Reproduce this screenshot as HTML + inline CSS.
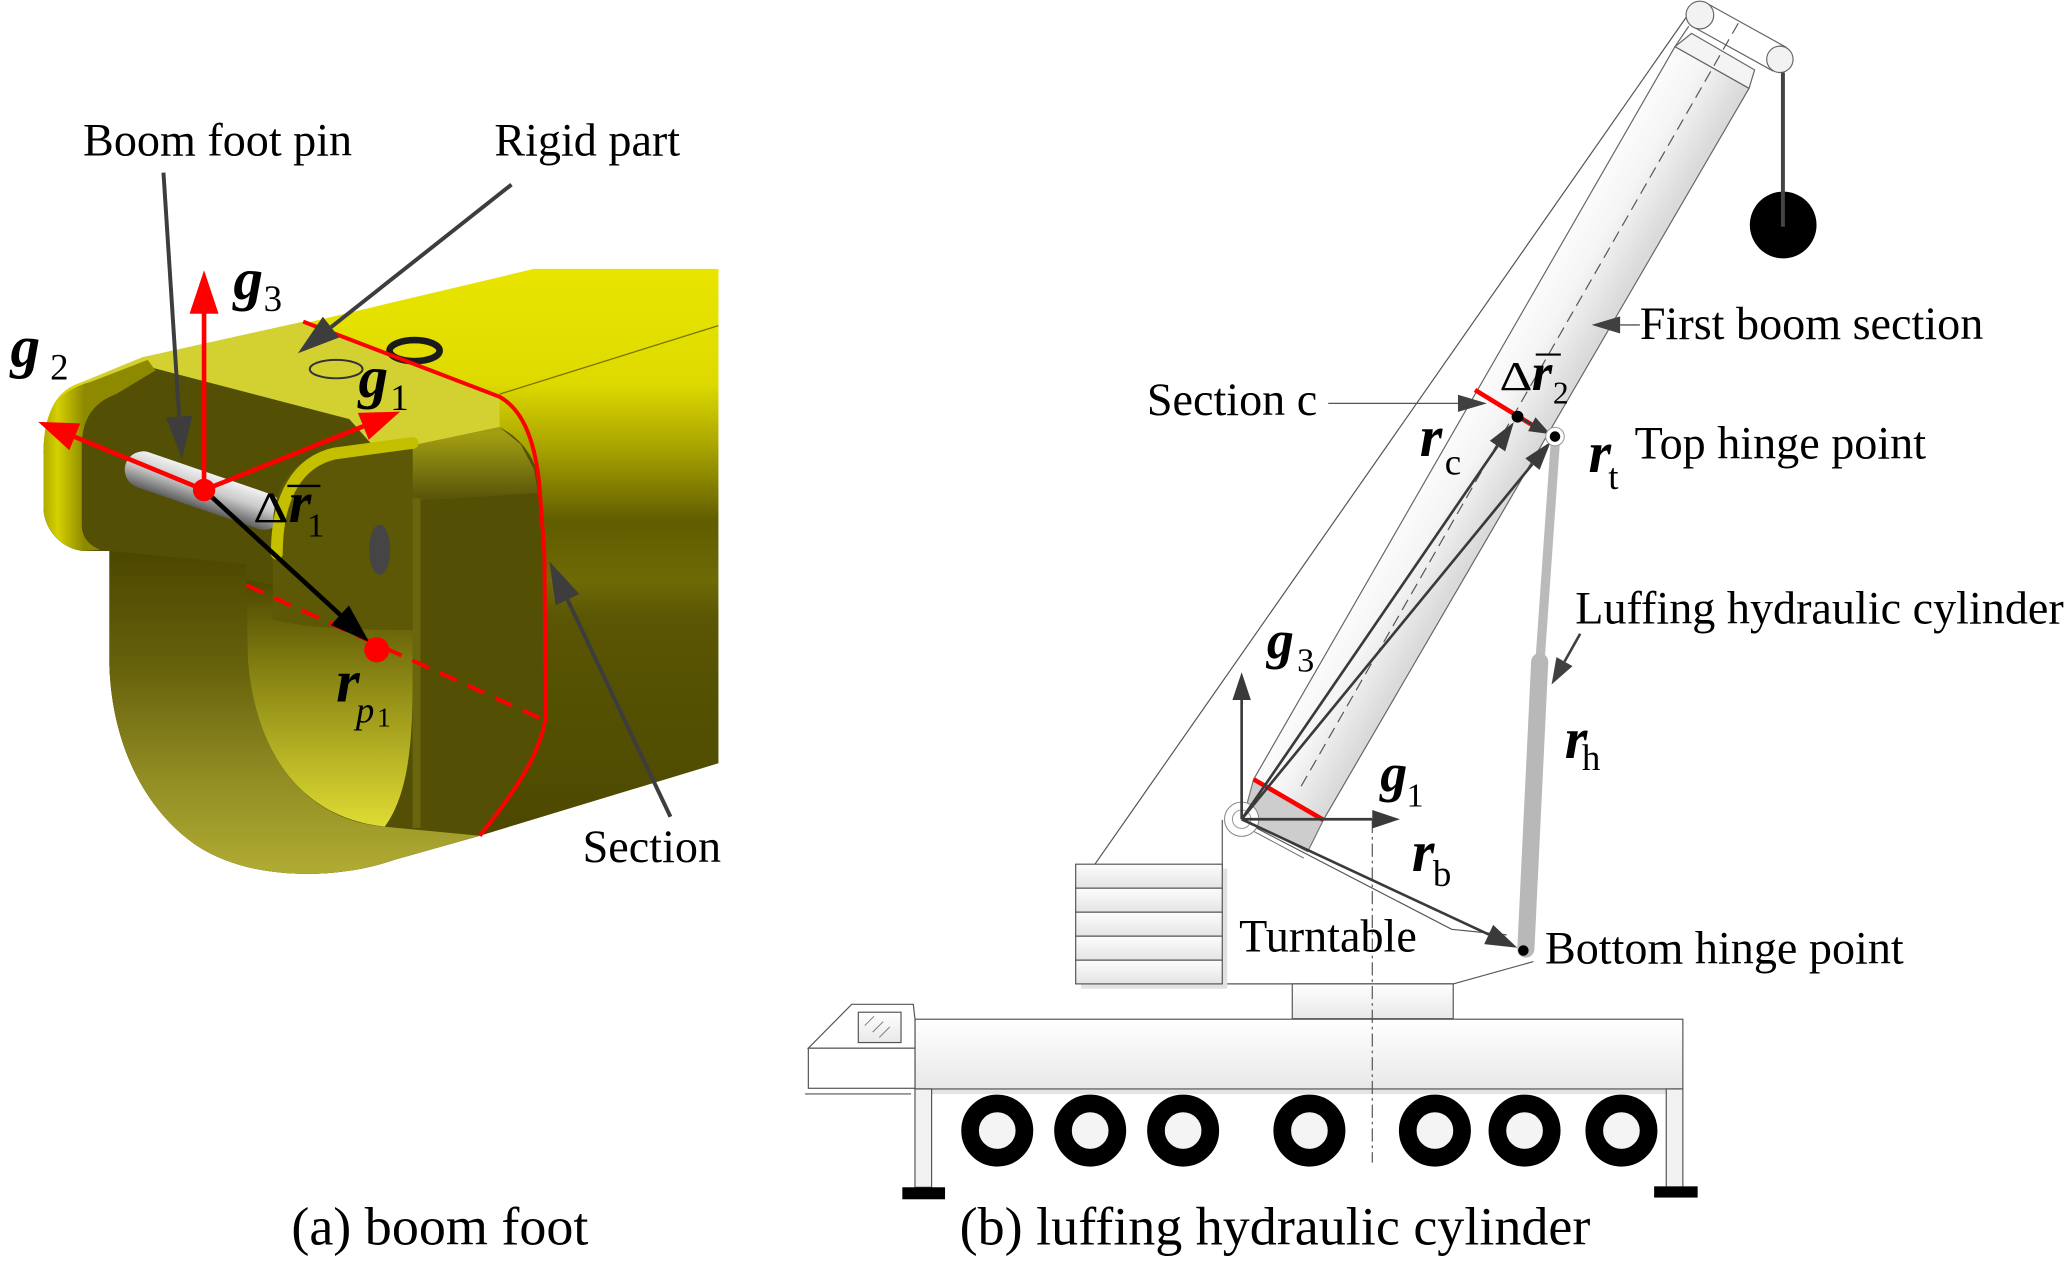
<!DOCTYPE html>
<html><head><meta charset="utf-8"><style>
html,body{margin:0;padding:0;background:#fff;}
svg{display:block;}
text{font-family:"Liberation Serif","Times New Roman",serif;fill:#000;}
.l{font-size:35px;}
.c{font-size:41px;}
.bi{font-weight:bold;font-style:italic;}
</style></head><body>
<svg width="2067" height="1264" viewBox="0 0 1568 958.9" preserveAspectRatio="none" xmlns="http://www.w3.org/2000/svg">
<defs>
<linearGradient id="body" x1="0" y1="204" x2="0" y2="660" gradientUnits="userSpaceOnUse">
 <stop offset="0" stop-color="#e9e500"/>
 <stop offset="0.19" stop-color="#dedA00"/>
 <stop offset="0.3" stop-color="#a6a200"/>
 <stop offset="0.42" stop-color="#615d00"/>
 <stop offset="0.52" stop-color="#6e6a06"/>
 <stop offset="0.58" stop-color="#5a5604"/>
 <stop offset="1" stop-color="#4a4600"/>
</linearGradient>
<linearGradient id="ringOut" x1="0" y1="418" x2="0" y2="668" gradientUnits="userSpaceOnUse">
 <stop offset="0" stop-color="#4b4700"/>
 <stop offset="0.35" stop-color="#66610c"/>
 <stop offset="0.7" stop-color="#938e24"/>
 <stop offset="1" stop-color="#b2ae34"/>
</linearGradient>
<linearGradient id="ringIn" x1="0" y1="440" x2="0" y2="628" gradientUnits="userSpaceOnUse">
 <stop offset="0" stop-color="#4a4600"/>
 <stop offset="0.4" stop-color="#8a8614"/>
 <stop offset="1" stop-color="#e0dc34"/>
</linearGradient>
<linearGradient id="lugRim" x1="33" y1="0" x2="64" y2="0" gradientUnits="userSpaceOnUse">
 <stop offset="0" stop-color="#b0ac00"/>
 <stop offset="0.35" stop-color="#d4d000"/>
 <stop offset="1" stop-color="#8e8a00"/>
</linearGradient>
<linearGradient id="band" x1="0" y1="330" x2="0" y2="380" gradientUnits="userSpaceOnUse">
 <stop offset="0" stop-color="#a29e12"/>
 <stop offset="1" stop-color="#56520a"/>
</linearGradient>
<linearGradient id="pinG" x1="0" y1="0" x2="0" y2="1">
 <stop offset="0" stop-color="#f2f2f2"/>
 <stop offset="0.45" stop-color="#c9c9c9"/>
 <stop offset="1" stop-color="#5e5e5e"/>
</linearGradient>
<linearGradient id="boomG" x1="1110" y1="290" x2="1172" y2="326" gradientUnits="userSpaceOnUse">
 <stop offset="0" stop-color="#ffffff"/>
 <stop offset="0.5" stop-color="#f5f5f5"/>
 <stop offset="1" stop-color="#dadada"/>
</linearGradient>
<linearGradient id="slabG" x1="0" y1="0" x2="0" y2="1">
 <stop offset="0" stop-color="#fdfdfd"/>
 <stop offset="1" stop-color="#e4e4e4"/>
</linearGradient>
<linearGradient id="carG" x1="0" y1="0" x2="0" y2="1">
 <stop offset="0" stop-color="#ffffff"/>
 <stop offset="1" stop-color="#e8e8e8"/>
</linearGradient>
</defs>

<!-- ================= (a) boom foot ================= -->
<path d="M33 345 C33 310 45 295 62 290 L108 271 L228 246 L405 204 L545 204 L545 579 L364 634 L300 652 C255 668 190 668 150 642 C110 615 85 565 83 505 L83 418 L63 418 C45 416 33 400 33 385 Z" fill="url(#body)"/>
<!-- top face of rigid part -->
<polygon points="62,290 108,271 230,244 379,301 379,324 313,338 281,336 265,318 112,278 70,300" fill="#d3d032"/>
<line x1="379" y1="299" x2="545" y2="247" stroke="#7a7600" stroke-width="1"/>
<!-- front olive -->
<path d="M70 300 L112 278 L265 318 L281 336 L313 338 L379 324 C398 334 407 350 409 366 L413 420 L414 544 C410 570 395 595 364 634 L300 652 C255 668 190 668 150 642 C110 615 85 565 83 505 L83 418 L63 418 C45 416 33 400 33 385 L33 345 C33 322 45 305 70 300 Z" fill="#534f05"/>
<polygon points="313,338 379,324 395,337 405,356 408,374 313,380" fill="url(#band)"/>
<rect x="313" y="378" width="6" height="250" fill="#6a660e"/>
<!-- ring outer face -->
<path d="M83 418 L187 428 L188 500 C195 585 240 622 290 627 L364 634 L300 652 C255 668 190 668 150 642 C110 615 85 565 83 505 Z" fill="url(#ringOut)"/>
<!-- ring inner -->
<path d="M187 440 L215 445 L222 470 L313 478 L313 520 C313 570 308 605 292 627 C240 622 195 585 188 500 Z" fill="url(#ringIn)"/>
<!-- left lug rim -->
<path d="M63 418 C45 416 33 400 33 385 L33 345 C33 312 45 296 68 290 L112 273 L118 281 L88 299 C70 306 62 318 62 340 L62 398 C62 408 68 414 76 417 Z" fill="url(#lugRim)"/>
<!-- pin -->
<rect x="92" y="358" width="125" height="28" rx="14" fill="url(#pinG)" transform="rotate(19 154 372)"/>
<!-- right lug -->
<path d="M207 470 L207 400 C207 365 225 347 252 342 L313 334 L313 478 C270 478 230 476 207 470 Z" fill="#5c5805"/>
<path d="M210 420 C210 375 227 350 254 344 L313 336" fill="none" stroke="#c4c000" stroke-width="9" stroke-linecap="round"/>
<ellipse cx="288" cy="417" rx="8" ry="19" fill="#454545"/>
<!-- holes on top -->
<ellipse cx="314.5" cy="266" rx="19" ry="8" fill="none" stroke="#1a1a1a" stroke-width="5"/>
<ellipse cx="255" cy="280" rx="20" ry="7" fill="none" stroke="#333" stroke-width="1.5"/>

<!-- red section line -->
<path d="M230 244 L379 301 C395 310 405 330 409 366 L413 420 L414 544 C410 570 395 595 364 634" fill="none" stroke="#ff0000" stroke-width="3"/>
<line x1="187" y1="444" x2="410" y2="545" stroke="#ff0000" stroke-width="3" stroke-dasharray="14 9"/>

<!-- red axes -->
<g stroke="#ff0000" stroke-width="3.5" fill="none">
<line x1="154.8" y1="371.7" x2="154.8" y2="236"/>
<line x1="154.8" y1="371.7" x2="56.75" y2="331.4"/>
<line x1="154.8" y1="371.7" x2="275.6" y2="323.4"/>
</g>
<g fill="#ff0000">
<polygon points="154.8,205 143.8,238 165.8,238"/>
<polygon points="29,320 60.9,321.2 52.6,341.6"/>
<polygon points="303.5,312.3 279.7,333.6 271.5,313.2"/>
</g>
<!-- black delta r1 arrow -->
<line x1="154.8" y1="371.7" x2="262" y2="470" stroke="#000" stroke-width="3.5"/>
<polygon points="280,487 251.1,474.1 264.7,459.3" fill="#000"/>
<circle cx="154.8" cy="371.7" r="8.5" fill="#ff0000"/>
<circle cx="285.8" cy="493" r="9.5" fill="#ff0000"/>

<!-- gray annotation arrows -->
<g stroke="#3d3d3d" stroke-width="3">
<line x1="124" y1="131" x2="135.9" y2="316"/>
<line x1="388" y1="140" x2="251.1" y2="248.2"/>
<line x1="508.6" y1="619.6" x2="430.5" y2="454.9"/>
</g>
<g fill="#3d3d3d">
<polygon points="138,348 126,316.7 145.9,315.4"/>
<polygon points="226,268 244.9,240.3 257.3,256"/>
<polygon points="416.8,426 439.5,450.6 421.5,459.2"/>
</g>

<!-- labels (a) -->
<text class="l" x="63" y="118">Boom foot pin</text>
<text class="l" x="375" y="118">Rigid part</text>
<text class="l" x="442" y="654">Section</text>
<text class="c" x="221" y="944">(a) boom foot</text>

<text class="bi" x="177" y="227" font-size="45">g</text>
<text x="200" y="236" font-size="28">3</text>
<text class="bi" x="8" y="278" font-size="45">g</text>
<text x="38" y="288" font-size="28">2</text>
<text class="bi" x="272" y="301" font-size="45">g</text>
<text x="296" y="311" font-size="28">1</text>
<text x="192" y="396" font-size="33" textLength="27" lengthAdjust="spacingAndGlyphs">Δ</text>
<text class="bi" x="219" y="396" font-size="44">r</text>
<line x1="218" y1="368.6" x2="243" y2="368.6" stroke="#000" stroke-width="1.8"/>
<text x="233" y="407" font-size="26">1</text>
<text class="bi" x="255" y="532" font-size="46">r</text>
<text x="270" y="548" font-size="28" font-style="italic">p</text>
<text x="286" y="551" font-size="21">1</text>

<!-- ================= (b) crane ================= -->
<line x1="1279.4" y1="12.7" x2="830.6" y2="655.6" stroke="#555" stroke-width="0.9"/>
<line x1="1281" y1="20" x2="1270.6" y2="35.4" stroke="#666" stroke-width="0.9"/>
<!-- boom -->
<polygon points="1270.6,35.4 1326.8,67 1003.9,622 992,646 943,621 951,591.2" fill="url(#boomG)" stroke="#666" stroke-width="0.9"/>
<polygon points="951,591.2 1003.9,622 992,646 943,621" fill="#cdcdcd" stroke="#777" stroke-width="0.8"/>
<line x1="946" y1="628" x2="989" y2="651" stroke="#777" stroke-width="0.8"/>
<!-- head -->
<polygon points="1283.2,25.3 1331,53 1326.8,67 1270.6,35.4" fill="#f4f4f4" stroke="#666" stroke-width="0.9"/>
<line x1="1294.5" y1="2.4" x2="1355.2" y2="36" stroke="#666" stroke-width="0.9"/>
<line x1="1284.5" y1="20.4" x2="1345.2" y2="54" stroke="#666" stroke-width="0.9"/>
<circle cx="1289.5" cy="11.4" r="10.5" fill="#f2f2f2" stroke="#666" stroke-width="0.9"/>
<circle cx="1350.2" cy="45" r="10" fill="#f2f2f2" stroke="#666" stroke-width="0.9"/>
<!-- dashed centerline -->
<line x1="1318.6" y1="17.7" x2="985" y2="600" stroke="#555" stroke-width="0.9" stroke-dasharray="9 5"/>
<!-- hook -->
<circle cx="1352.7" cy="170.7" r="25.3" fill="#000"/>
<line x1="1352.5" y1="55" x2="1352.5" y2="172" stroke="#444" stroke-width="3"/>

<!-- red section lines -->
<line x1="1118.9" y1="295.8" x2="1164.4" y2="323.7" stroke="#ff0000" stroke-width="3.5"/>
<line x1="951" y1="591.2" x2="1003.9" y2="622" stroke="#ff0000" stroke-width="3.5"/>

<!-- luffing cylinder -->
<line x1="1180" y1="333" x2="1168" y2="505" stroke="#bababa" stroke-width="7" stroke-linecap="round"/>
<line x1="1168" y1="502" x2="1157.5" y2="720" stroke="#b8b8b8" stroke-width="13" stroke-linecap="round"/>

<!-- turntable -->
<polyline points="953.3,628.3 1101.2,705 1142.9,709.2" fill="none" stroke="#555" stroke-width="0.9"/>
<line x1="927.2" y1="622" x2="927.2" y2="746.4" stroke="#555" stroke-width="0.9"/>
<polyline points="927.2,746.4 1102.4,746.4 1163.2,729.5" fill="none" stroke="#555" stroke-width="0.9"/>
<circle cx="941.9" cy="621.5" r="13" fill="#fff" stroke="#888" stroke-width="0.8"/>
<circle cx="941.9" cy="621.5" r="7" fill="none" stroke="#999" stroke-width="0.8"/>

<!-- counterweight -->
<g stroke="#555" stroke-width="0.9">
<rect x="820" y="659" width="111" height="91" fill="#e2e2e2" stroke="none"/>
<rect x="816" y="655.6" width="111.2" height="18.2" fill="url(#slabG)"/>
<rect x="816" y="673.8" width="111.2" height="18.2" fill="url(#slabG)"/>
<rect x="816" y="692" width="111.2" height="18.2" fill="url(#slabG)"/>
<rect x="816" y="710.2" width="111.2" height="18.2" fill="url(#slabG)"/>
<rect x="816" y="728.4" width="111.2" height="18" fill="url(#slabG)"/>
</g>
<!-- slewing base -->
<rect x="980.3" y="746.4" width="122.1" height="26.4" fill="url(#carG)" stroke="#555" stroke-width="0.9"/>
<!-- carrier -->
<rect x="706" y="826" width="570" height="4" fill="#e4e4e4"/>
<rect x="694.1" y="773.2" width="582.5" height="52.9" fill="url(#carG)" stroke="#555" stroke-width="0.9"/>
<polygon points="613.2,795.2 646.1,761.9 692.8,761.9 694.1,773.2 694.1,795.2" fill="#fff" stroke="#555" stroke-width="0.9"/>
<rect x="613.2" y="795.2" width="80.9" height="30.4" fill="#fff" stroke="#555" stroke-width="0.9"/>
<rect x="651.1" y="767.9" width="32.4" height="23" fill="url(#carG)" stroke="#555" stroke-width="0.9"/>
<g stroke="#777" stroke-width="0.7">
<line x1="656" y1="778" x2="663" y2="771"/>
<line x1="662" y1="783" x2="670" y2="775"/>
<line x1="667" y1="787" x2="675" y2="779"/>
</g>
<line x1="610.7" y1="829.9" x2="691.1" y2="829.9" stroke="#555" stroke-width="0.9"/>
<rect x="694.1" y="826.1" width="12.6" height="74.6" fill="#f2f2f2" stroke="#555" stroke-width="0.9"/>
<rect x="1264" y="826.1" width="12.6" height="74.6" fill="#f2f2f2" stroke="#555" stroke-width="0.9"/>
<rect x="684.5" y="900.7" width="32.4" height="9.1" fill="#000"/>
<rect x="1254.8" y="900" width="33" height="8.5" fill="#000"/>
<!-- wheels -->
<g fill="#f4f4f4" stroke="#000" stroke-width="13.4">
<circle cx="756.5" cy="857.7" r="20.6"/>
<circle cx="827" cy="857.7" r="20.6"/>
<circle cx="897.5" cy="857.7" r="20.6"/>
<circle cx="993.3" cy="857.7" r="20.6"/>
<circle cx="1088.5" cy="857.7" r="20.6"/>
<circle cx="1156.5" cy="857.7" r="20.6"/>
<circle cx="1230" cy="857.7" r="20.6"/>
</g>
<!-- center dash-dot -->
<line x1="1041" y1="622" x2="1041" y2="882" stroke="#555" stroke-width="0.9" stroke-dasharray="10 3 2 3"/>

<!-- vectors -->
<g stroke="#3a3a3a" stroke-width="2" fill="none">
<line x1="941.9" y1="621.5" x2="941.9" y2="531"/>
<line x1="941.9" y1="621.5" x2="1041" y2="621.5"/>
<line x1="941.9" y1="621.5" x2="1136" y2="338.4"/>
<line x1="941.9" y1="621.5" x2="1162.5" y2="352.1"/>
<line x1="1151.2" y1="316.1" x2="1162" y2="321.8"/>
<line x1="941.9" y1="621.5" x2="1129.3" y2="708.9"/>
</g>
<g fill="#3a3a3a">
<polygon points="941.9,510 934.9,531 948.9,531"/>
<polygon points="1062,621.5 1041,614.5 1041,628.5"/>
<polygon points="1148.4,320.2 1141.8,342.4 1130.2,334.4"/>
<polygon points="1176.4,335.1 1167.9,356.5 1157.1,347.7"/>
<polygon points="1176.1,329.3 1159.2,327.1 1164.8,316.5"/>
<polygon points="1151,719 1125.9,716.2 1132.7,701.6"/>
</g>
<circle cx="1179.6" cy="331.2" r="7" fill="#fff" stroke="#999" stroke-width="0.8"/>
<circle cx="1179.6" cy="331.2" r="4" fill="#000"/>
<circle cx="1151.2" cy="316.1" r="4.5" fill="#000"/>
<circle cx="1155.6" cy="721.1" r="4" fill="#000"/>

<!-- annotation arrows (b) -->
<line x1="1007.6" y1="306" x2="1106" y2="306" stroke="#555" stroke-width="1"/>
<polygon points="1128,306 1106,299.5 1106,312.5" fill="#404040"/>
<line x1="1244" y1="246.5" x2="1229" y2="246.5" stroke="#555" stroke-width="1"/>
<polygon points="1207.4,246.5 1229,240 1229,253" fill="#404040"/>
<line x1="1198.7" y1="480.8" x2="1186.8" y2="501.9" stroke="#404040" stroke-width="2"/>
<polygon points="1177,519.3 1180.7,498.5 1192.9,505.3" fill="#404040"/>

<!-- labels (b) -->
<text class="l" x="1244" y="257">First boom section</text>
<text class="l" x="870" y="315">Section c</text>
<text class="l" x="1240" y="348">Top hinge point</text>
<text class="l" x="1195" y="473">Luffing hydraulic cylinder</text>
<text class="l" x="940" y="722">Turntable</text>
<text class="l" x="1172" y="731">Bottom hinge point</text>
<text class="c" x="728" y="944">(b) luffing hydraulic cylinder</text>

<text x="1137.5" y="296" font-size="31" textLength="25" lengthAdjust="spacingAndGlyphs">Δ</text>
<text class="bi" x="1162" y="296" font-size="40">r</text>
<line x1="1165" y1="269" x2="1184" y2="269" stroke="#000" stroke-width="1.6"/>
<text x="1178" y="306" font-size="24">2</text>
<text class="bi" x="1077" y="346" font-size="44">r</text>
<text x="1096" y="360" font-size="28">c</text>
<text class="bi" x="1205" y="358" font-size="44">r</text>
<text x="1220" y="371" font-size="28">t</text>
<text class="bi" x="1187" y="575" font-size="44">r</text>
<text x="1200" y="584" font-size="28">h</text>
<text class="bi" x="961" y="499" font-size="41">g</text>
<text x="984" y="509.5" font-size="26">3</text>
<text class="bi" x="1047" y="600" font-size="41">g</text>
<text x="1067" y="612" font-size="26">1</text>
<text class="bi" x="1071" y="660.7" font-size="44">r</text>
<text x="1087" y="672" font-size="28">b</text>
</svg>
</body></html>
